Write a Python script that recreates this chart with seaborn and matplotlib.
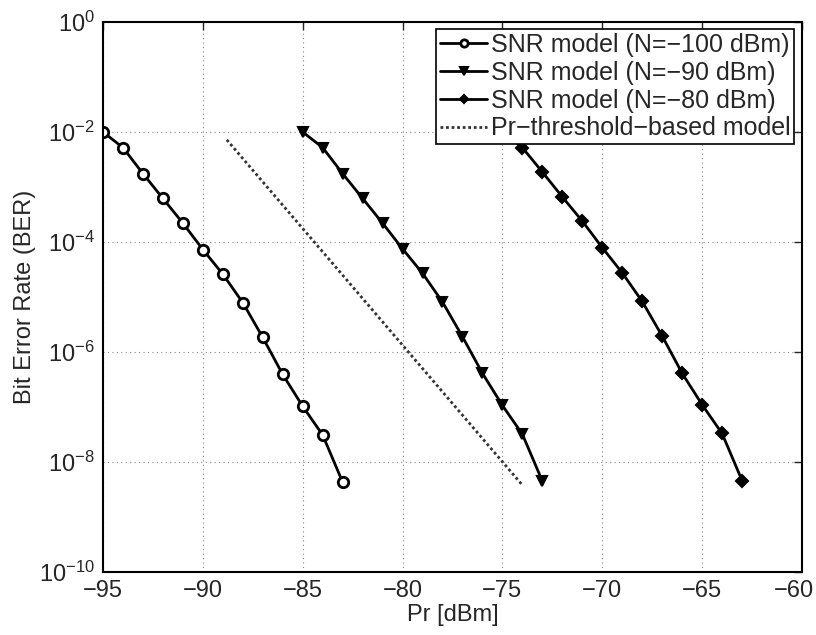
import numpy as np
import pandas as pd
import matplotlib
matplotlib.use("Agg")
import matplotlib.pyplot as plt
import matplotlib.transforms as mtransforms
import seaborn as sns

# values (BER on log scale)
pr_n100 = [-95, -94, -93, -92, -91, -90, -89, -88, -87, -86, -85, -84, -83]
ber_n100 = [1.0e-2, 5.2e-3, 1.75e-3, 6.2e-4, 2.2e-4, 7.3e-5, 2.6e-5,
            7.9e-6, 1.84e-6, 3.9e-7, 1.03e-7, 3.1e-8, 4.3e-9]

pr_n90 = [-85, -84, -83, -82, -81, -80, -79, -78, -77, -76, -75, -74, -73]
ber_n90 = [1.0e-2, 5.2e-3, 1.75e-3, 6.2e-4, 2.2e-4, 7.5e-5, 2.7e-5,
           8.1e-6, 1.9e-6, 4.1e-7, 1.07e-7, 3.2e-8, 4.5e-9]

pr_n80 = [-75, -74, -73, -72, -71, -70, -69, -68, -67, -66, -65, -64, -63]
ber_n80 = [1.0e-2, 5.2e-3, 1.87e-3, 6.6e-4, 2.4e-4, 7.9e-5, 2.75e-5,
           8.3e-6, 1.95e-6, 4.1e-7, 1.1e-7, 3.3e-8, 4.6e-9]

pr_thr = [-88.8, -74.0]
ber_thr = [7.2e-3, 3.8e-9]

x_ticks = [-95, -90, -85, -80, -75, -70, -65, -60]
y_ticks = [1e0, 1e-2, 1e-4, 1e-6, 1e-8, 1e-10]

sns.set_style("white")
plt.rcParams["font.family"] = ["Liberation Sans", "DejaVu Sans"]
plt.rcParams["axes.unicode_minus"] = True

fig = plt.figure(figsize=(8.16, 6.35), dpi=100)
ax = fig.add_axes([0.1262, 0.0992, 0.8566, 0.8662])

sns.lineplot(x=pr_n100, y=ber_n100, ax=ax, color="black", lw=2,
             marker="o", ms=7.5, mfc="white", mec="black", mew=2,
             label="SNR model (N=\u2212100 dBm)")
sns.lineplot(x=pr_n90, y=ber_n90, ax=ax, color="black", lw=2,
             marker="v", ms=7.5, mfc="black", mec="black", mew=1.5,
             label="SNR model (N=\u221290 dBm)")
sns.lineplot(x=pr_n80, y=ber_n80, ax=ax, color="black", lw=2,
             marker="D", ms=6, mfc="black", mec="black", mew=1.5,
             label="SNR model (N=\u221280 dBm)")
sns.lineplot(x=pr_thr, y=ber_thr, ax=ax, color="#333333", lw=2,
             linestyle=(0, (1, 1)), label="Pr\u2212threshold\u2212based model")

ax.set_yscale("log")
ax.set_xlim(-95, -60)
ax.set_ylim(1e-10, 1e0)
ax.set_xticks(x_ticks)
ax.set_xticklabels([f"\u2212{abs(v)}" for v in x_ticks])
ax.set_yticks(y_ticks)
ax.yaxis.set_minor_locator(matplotlib.ticker.NullLocator())

ax.grid(True, which="major", color="#888888", linestyle=(0, (1, 3)), lw=0.8)
ax.tick_params(direction="in", length=6, width=1, top=True, right=True,
               labelsize=17, pad=6)
for sp in ax.spines.values():
    sp.set_color("black")
    sp.set_linewidth(1.5)

# nudge the last x label inward so it stays inside the figure
last = ax.get_xticklabels()[-1]
last.set_transform(last.get_transform() +
                   mtransforms.ScaledTranslation(-8 / 100, 0, fig.dpi_scale_trans))

ax.set_xlabel("Pr [dBm]", fontsize=17, labelpad=1)
ax.set_ylabel("Bit Error Rate (BER)", fontsize=17, labelpad=2)

leg = ax.legend(loc="upper right", fontsize=18, frameon=True, fancybox=False,
                framealpha=1, edgecolor="black", handlelength=1.9,
                handletextpad=0.15, borderpad=0.15, labelspacing=0.15,
                borderaxespad=0.3, markerscale=0.7)
leg.get_frame().set_linewidth(1.2)

fig.savefig("out.png", dpi=100)
